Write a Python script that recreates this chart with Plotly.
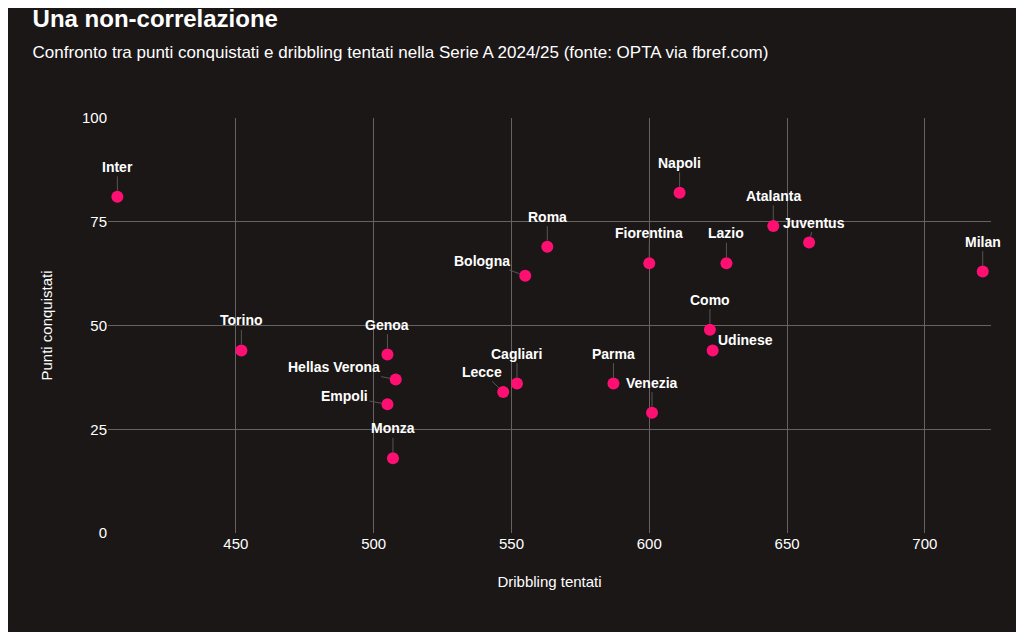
import plotly.graph_objects as go

teams = ["Inter", "Torino", "Genoa", "Hellas Verona", "Empoli", "Monza", "Lecce", "Cagliari",
         "Bologna", "Roma", "Fiorentina", "Parma", "Venezia", "Napoli", "Como", "Udinese",
         "Lazio", "Atalanta", "Juventus", "Milan"]
dribbling = [407, 452, 505, 508, 505, 507, 547, 552, 555, 563, 600, 587, 601, 611, 622, 623,
             628, 645, 658, 721]
punti = [81, 44, 43, 37, 31, 18, 34, 36, 62, 69, 65, 36, 29, 82, 49, 44, 65, 74, 70, 63]

# label offsets (px) where the label isn't straight above the dot
offsets = {"Hellas Verona": (-62, -12), "Empoli": (-43, -8), "Lecce": (-21, -20),
           "Bologna": (-43, -15), "Udinese": (33, -10), "Juventus": (5, -20)}

BG = "#1b1717"
PINK = "#ff0f72"

fig = go.Figure(go.Scatter(
    x=dribbling, y=punti, mode="markers",
    marker=dict(color=PINK, size=12),
    hovertext=teams, hoverinfo="text+x+y",
))

for t, x, y in zip(teams, dribbling, punti):
    ax, ay = offsets.get(t, (0, -30))
    fig.add_annotation(
        x=x, y=y, text=f"<b>{t}</b>", ax=ax, ay=ay,
        showarrow=True, arrowhead=0, arrowwidth=1, arrowcolor="#555",
        standoff=6, font=dict(color="white", size=14),
    )

fig.update_layout(
    width=1024, height=632,
    paper_bgcolor=BG, plot_bgcolor=BG,
    font=dict(family="Liberation Sans, Arial", color="white", size=15),
    title=dict(text="<b>Una non-correlazione</b><br><span style='font-size:17px'>"
                    "Confronto tra punti conquistati e dribbling tentati nella Serie A 2024/25 "
                    "(fonte: OPTA via fbref.com)</span>",
               x=0.024, xanchor="left", y=0.97, yanchor="top",
               font=dict(size=24, color="white")),
    margin=dict(l=100, r=41, t=110, b=107),
    showlegend=False,
    xaxis=dict(range=[403.6, 724], tickvals=[450, 500, 550, 600, 650, 700],
               gridcolor="#666262", zeroline=False, showline=False,
               title=dict(text="Dribbling tentati", standoff=25, font=dict(size=15))),
    yaxis=dict(range=[0, 100], tickvals=[0, 25, 50, 75, 100],
               gridcolor="#666262", zeroline=False,
               title=dict(text="Punti conquistati", standoff=25, font=dict(size=15))),
)

fig.write_html("out.html")
